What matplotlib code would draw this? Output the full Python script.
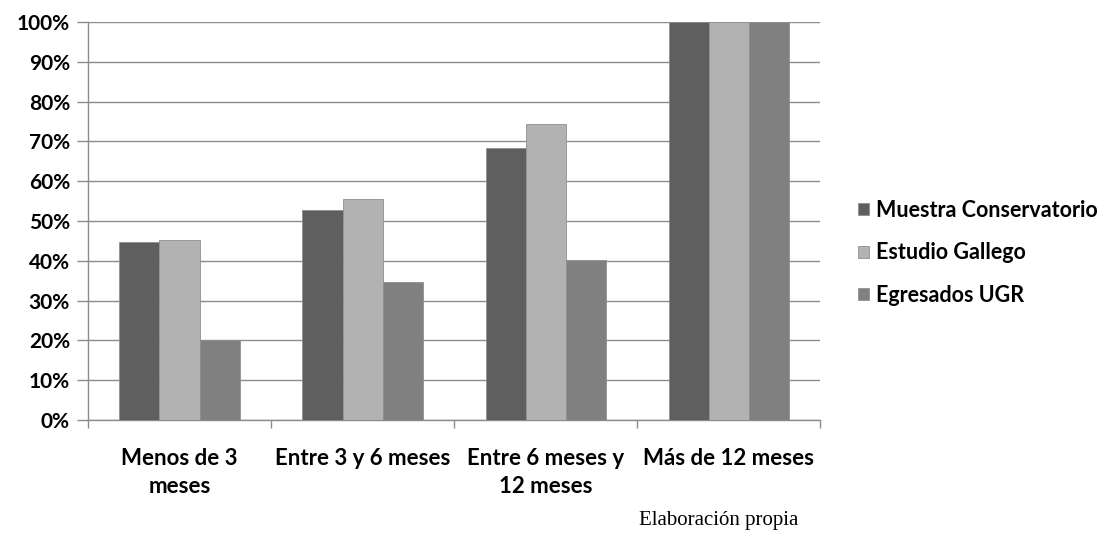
import matplotlib
matplotlib.use("Agg")
import matplotlib.pyplot as plt
import numpy as np
from matplotlib.ticker import FuncFormatter

categorias = ["Menos de 3\nmeses", "Entre 3 y 6 meses", "Entre 6 meses y\n12 meses", "Más de 12 meses"]
series = ["Muestra Conservatorio", "Estudio Gallego", "Egresados UGR"]
muestra = [44.7, 52.7, 68.3, 100]
gallego = [45.2, 55.6, 74.4, 100]
ugr = [20.0, 34.8, 40.2, 100]
colores = ["#5f5f5f", "#b2b2b2", "#808080"]

fuente = ["Lato", "DejaVu Sans"]
plt.rcParams['font.family'] = fuente

fig = plt.figure(figsize=(11.07, 5.42), dpi=100)
ax = fig.add_axes([0.0795, 0.225, 0.6615, 0.7344])

x = np.arange(len(categorias))
w = 0.219
for i, (vals, nombre) in enumerate(zip([muestra, gallego, ugr], series)):
    ax.bar(x + (i - 1) * w, vals, w, color=colores[i], label=nombre,
           edgecolor="#909090", linewidth=0.6, zorder=3)

ax.set_xlim(-0.5, len(categorias) - 0.5)
ax.set_ylim(0, 100)
ax.set_yticks(np.arange(0, 101, 10))
ax.yaxis.set_major_formatter(FuncFormatter(lambda v, p: f"{int(v)}%"))
ax.yaxis.grid(True, color="#8c8c8c", linewidth=1, zorder=0)
ax.set_axisbelow(True)

ax.set_xticks(np.arange(-0.5, len(categorias), 1))
ax.set_xticklabels([])
ax.set_xticks(x, minor=True)
ax.set_xticklabels(categorias, minor=True, fontsize=16, fontweight="bold", linespacing=1.45)
ax.tick_params(axis="x", which="minor", length=0, pad=20)
ax.tick_params(axis="x", which="major", length=6, color="#8c8c8c", width=1)
ax.tick_params(axis="y", length=8, color="#8c8c8c", width=1, labelsize=15, pad=5)
for t in ax.get_yticklabels():
    t.set_fontweight("bold")

for s in ["top", "right"]:
    ax.spines[s].set_visible(False)
for s in ["left", "bottom"]:
    ax.spines[s].set_color("#8c8c8c")
    ax.spines[s].set_linewidth(1)

leg = ax.legend(loc="center left", bbox_to_anchor=(1.025, 0.42), frameon=False,
                prop={"family": fuente, "weight": "bold", "size": 15.5},
                handlelength=0.5, handleheight=0.5, handletextpad=0.35, labelspacing=1.0)

fig.text(0.649, 0.04, "Elaboración propia", family="Liberation Serif", fontsize=15,
         ha="center", va="center")

fig.savefig("out.png", dpi=100)
